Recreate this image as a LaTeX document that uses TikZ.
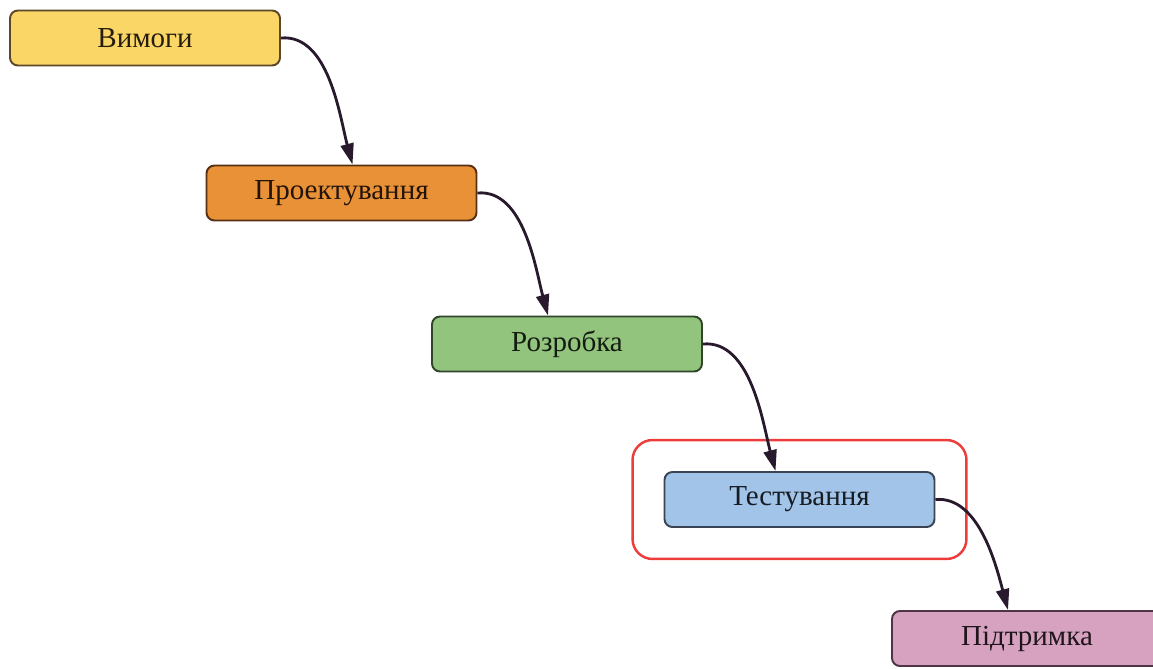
\documentclass[tikz,border=0pt]{standalone}
\usepackage{fontspec}
\setmainfont{Liberation Serif}
\usepackage{xcolor}
\usepackage{tikz}
\usetikzlibrary{positioning, arrows.meta, fit}
\definecolor{reqfill}{RGB}{250,214,102}
\definecolor{reqink}{RGB}{92,72,38}
\definecolor{desfill}{RGB}{232,145,55}
\definecolor{desink}{RGB}{88,48,20}
\definecolor{devfill}{RGB}{147,196,125}
\definecolor{devink}{RGB}{48,70,40}
\definecolor{tstfill}{RGB}{162,196,232}
\definecolor{tstink}{RGB}{58,68,84}
\definecolor{supfill}{RGB}{214,162,192}
\definecolor{supink}{RGB}{78,52,68}
\definecolor{arrowink}{RGB}{40,26,44}
\definecolor{frame}{RGB}{236,60,60}

\begin{document}
\begin{tikzpicture}[
  phase/.style={draw, rounded corners=4.5pt, line width=1.1pt, minimum width=5.4cm, minimum height=1.1cm, font=\fontsize{16.5}{19}\selectfont},
  flow/.style={-{Triangle[length=4.2mm, width=2.6mm]}, line width=1.6pt, draw=arrowink}]
\useasboundingbox (0,0) rectangle (23.06,-13.36);
\node[phase, fill=reqfill, draw=reqink, text=reqink!40!black] (req) at (2.90,-0.76) {Вимоги};
\node[phase, fill=desfill, draw=desink, text=desink!40!black] (des) at (6.83,-3.86) {Проектування};
\node[phase, fill=devfill, draw=devink, text=devink!40!black] (dev) at (11.34,-6.88) {Розробка};
\node[phase, fill=tstfill, draw=tstink, text=tstink!40!black] (tst) at (15.99,-9.99) {Тестування};
\node[phase, fill=supfill, draw=supink, text=supink!40!black] (sup) at (20.54,-12.77) {Підтримка};
% testing stage highlighted
\node[draw=frame, line width=1.4pt, rounded corners=0.4cm, fit=(tst), inner xsep=0.62cm, inner ysep=0.62cm] (hl) {};
\draw[flow] (req.east) to[out=5, in=105, looseness=0.85] ([xshift=0.22cm]des.north);
\draw[flow] (des.east) to[out=5, in=105, looseness=0.85] ([xshift=-0.38cm]dev.north);
\draw[flow] (dev.east) to[out=5, in=105, looseness=0.85] ([xshift=-0.48cm]tst.north);
\draw[flow] (tst.east) to[out=5, in=105, looseness=0.85] ([xshift=-0.38cm]sup.north);
\end{tikzpicture}
\end{document}
